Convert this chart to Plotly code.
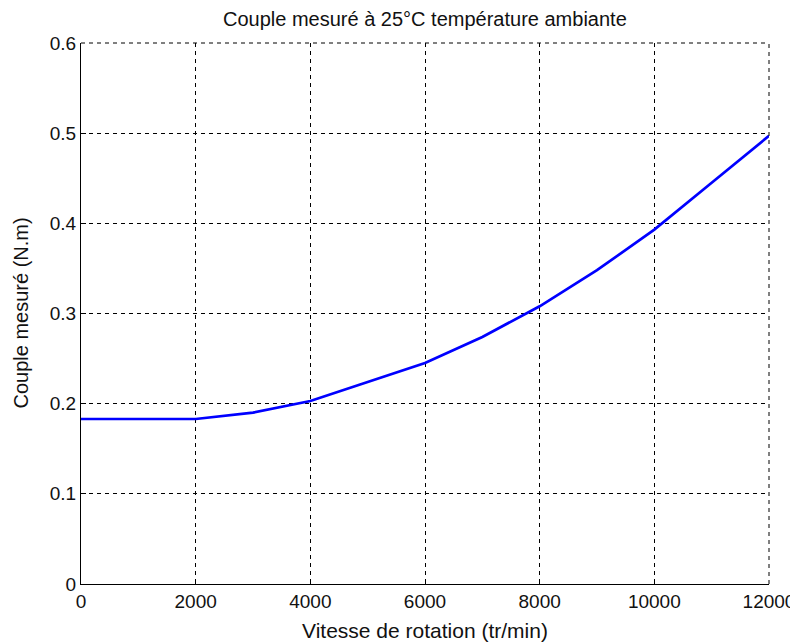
import plotly.graph_objects as go

speed = [0, 1000, 2000, 3000, 4000, 5000, 6000, 7000, 8000, 9000, 10000, 11000, 12000]
torque = [0.183, 0.183, 0.183, 0.190, 0.203, 0.224, 0.245, 0.274, 0.308, 0.348, 0.393, 0.445, 0.497]

title = "Couple mesuré à 25°C température ambiante"
xlabel = "Vitesse de rotation (tr/min)"
ylabel = "Couple mesuré (N.m)"
xticks = [0, 2000, 4000, 6000, 8000, 10000, 12000]
yticks = [0, 0.1, 0.2, 0.3, 0.4, 0.5, 0.6]
ytext = ["0", "0.1", "0.2", "0.3", "0.4", "0.5", "0.6"]

fig = go.Figure()
fig.add_trace(go.Scatter(x=speed, y=torque, mode="lines",
                         line=dict(color="#0000FF", width=2.7), showlegend=False))

font = "Liberation Sans, Arial, sans-serif"
DASH = "4px,4px"
# page body has an 8px default margin; compensate so the plot lands where the reference has it
OFF = 8
W, H = 798 - OFF, 643 - OFF
L, R, T, B = 81 - OFF, 29, 43 - OFF, 59
fig.update_layout(
    width=W, height=H,
    margin=dict(l=L, r=R, t=T, b=B),
    paper_bgcolor="white", plot_bgcolor="white",
    font=dict(family=font, size=19, color="#111111"),
    xaxis=dict(range=[0, 12000], tickvals=xticks, ticktext=[str(v) for v in xticks],
               showline=True, linecolor="black", linewidth=1,
               showgrid=True, gridcolor="black", gridwidth=1, griddash=DASH,
               ticks="inside", ticklen=5, tickcolor="black", zeroline=False,
               automargin=False, tickfont=dict(size=19)),
    yaxis=dict(range=[0, 0.6], tickvals=yticks, ticktext=ytext,
               showline=True, linecolor="black", linewidth=1,
               showgrid=True, gridcolor="black", gridwidth=1, griddash=DASH,
               ticks="inside", ticklen=5, tickcolor="black", zeroline=False,
               automargin=False, tickfont=dict(size=19)),
    shapes=[
        dict(type="line", xref="paper", yref="paper", x0=0, x1=1, y0=1, y1=1,
             line=dict(color="black", width=1, dash=DASH)),
        dict(type="line", xref="paper", yref="paper", x0=1, x1=1, y0=0, y1=1,
             line=dict(color="black", width=1, dash=DASH)),
    ],
    annotations=[
        dict(text=title, xref="paper", yref="paper", x=0.5, y=1, yshift=24,
             xanchor="center", yanchor="middle", showarrow=False,
             font=dict(size=20)),
        dict(text=xlabel, xref="paper", yref="paper", x=0.5, y=0, yshift=-46,
             xanchor="center", yanchor="middle", showarrow=False,
             font=dict(size=21)),
        dict(text=ylabel, xref="paper", yref="paper", x=0, y=0.5, xshift=-61,
             xanchor="center", yanchor="middle", showarrow=False, textangle=-90,
             font=dict(size=20)),
    ],
)
fig.write_html("out.html")
